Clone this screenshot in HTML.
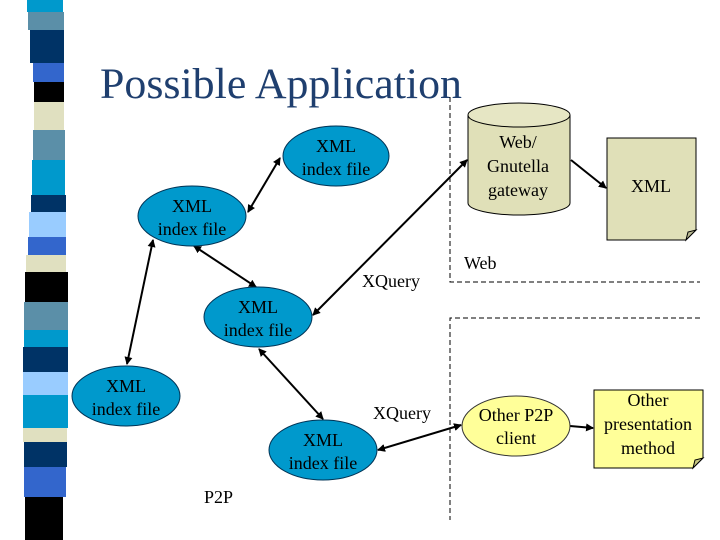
<!DOCTYPE html>
<html><head><meta charset="utf-8"><style>
html,body{margin:0;padding:0;background:#fff;}
svg{display:block;}
text{font-family:"Liberation Serif",serif;}
</style></head><body>
<svg width="720" height="540" viewBox="0 0 720 540" xmlns="http://www.w3.org/2000/svg">
<defs>
<marker id="a" markerWidth="8" markerHeight="8" refX="7" refY="4" orient="auto-start-reverse" markerUnits="userSpaceOnUse"><path d="M0,0 L8,4 L0,8 z" fill="#000"/></marker>
</defs>
<g>
<rect x="27" y="0" width="36" height="12" fill="#0099CC"/>
<rect x="28" y="12" width="36" height="18" fill="#5B8FA8"/>
<rect x="30" y="30" width="34" height="33" fill="#003366"/>
<rect x="33" y="63" width="31" height="19" fill="#3366CC"/>
<rect x="34" y="82" width="30" height="20" fill="#000"/>
<rect x="34" y="102" width="30" height="28" fill="#E0E0C0"/>
<rect x="33" y="130" width="32" height="30" fill="#5B8FA8"/>
<rect x="32" y="160" width="33" height="35" fill="#0099CC"/>
<rect x="31" y="195" width="35" height="17" fill="#003366"/>
<rect x="29" y="212" width="37" height="25" fill="#99CCFF"/>
<rect x="28" y="237" width="38" height="18" fill="#3366CC"/>
<rect x="26" y="255" width="40" height="17" fill="#E0E0C0"/>
<rect x="25" y="272" width="43" height="30" fill="#000"/>
<rect x="24" y="302" width="44" height="28" fill="#5B8FA8"/>
<rect x="24" y="330" width="44" height="17" fill="#0099CC"/>
<rect x="23" y="347" width="45" height="25" fill="#003366"/>
<rect x="23" y="372" width="45" height="23" fill="#99CCFF"/>
<rect x="23" y="395" width="45" height="33" fill="#0099CC"/>
<rect x="23" y="428" width="44" height="14" fill="#E0E0C0"/>
<rect x="24" y="442" width="43" height="25" fill="#003366"/>
<rect x="24" y="467" width="42" height="30" fill="#3366CC"/>
<rect x="25" y="497" width="38" height="43" fill="#000"/>
</g>
<text x="100" y="98" font-size="43" fill="#1F3F6F" textLength="362" lengthAdjust="spacingAndGlyphs">Possible Application</text>
<g fill="none" stroke="#000" stroke-width="1" stroke-dasharray="5,3">
<path d="M450,97 V282 H700"/>
<path d="M700,318 H450 V520"/>
</g>
<g stroke="#000" stroke-width="2" fill="none">
<line x1="280" y1="158" x2="248" y2="212" marker-start="url(#a)" marker-end="url(#a)"/>
<line x1="153" y1="240" x2="127" y2="364" marker-start="url(#a)" marker-end="url(#a)"/>
<line x1="194" y1="246" x2="256" y2="287" marker-start="url(#a)" marker-end="url(#a)"/>
<line x1="259" y1="349" x2="323" y2="419" marker-start="url(#a)" marker-end="url(#a)"/>
<line x1="313" y1="315" x2="467" y2="160" marker-start="url(#a)" marker-end="url(#a)"/>
<line x1="571" y1="160" x2="606" y2="188" marker-end="url(#a)"/>
<line x1="378" y1="450" x2="461" y2="425" marker-start="url(#a)" marker-end="url(#a)"/>
<line x1="570" y1="426" x2="593" y2="428" marker-end="url(#a)"/>
</g>
<g fill="#0099CC" stroke="#003355" stroke-width="1">
<ellipse cx="336" cy="156" rx="53" ry="30"/>
<ellipse cx="192" cy="216" rx="54" ry="30"/>
<ellipse cx="258" cy="317" rx="54" ry="30"/>
<ellipse cx="126" cy="396" rx="54" ry="30"/>
<ellipse cx="323" cy="450" rx="54" ry="30"/>
</g>
<ellipse cx="516" cy="426" rx="54" ry="30" fill="#FFFF99" stroke="#333" stroke-width="1"/>
<path d="M594,390 H703 V458 L693,468 H594 Z" fill="#FFFF99" stroke="#000" stroke-width="1"/>
<path d="M693,468 L695,460 L703,458 Z" fill="#C8C880" stroke="#000" stroke-width="1"/>
<path d="M468,115 V203 A51,12 0 0 0 570,203 V115" fill="#E0E0B8" stroke="#000" stroke-width="1"/>
<ellipse cx="519" cy="115" rx="51" ry="12" fill="#E6E6C4" stroke="#000" stroke-width="1"/>
<path d="M607,138 H696 V230 L686,240 H607 Z" fill="#E0E0B8" stroke="#000" stroke-width="1"/>
<path d="M686,240 L688,232 L696,230 Z" fill="#B8B890" stroke="#000" stroke-width="1"/>
<g font-size="18" text-anchor="middle" fill="#000">
<text x="336" y="152">XML</text><text x="336" y="175">index file</text>
<text x="192" y="212">XML</text><text x="192" y="235">index file</text>
<text x="258" y="313">XML</text><text x="258" y="336">index file</text>
<text x="126" y="392">XML</text><text x="126" y="415">index file</text>
<text x="323" y="446">XML</text><text x="323" y="469">index file</text>
<text x="518" y="148">Web/</text><text x="518" y="172">Gnutella</text><text x="518" y="196">gateway</text>
<text x="651" y="192">XML</text>
<text x="516" y="421">Other P2P</text><text x="516" y="444">client</text>
<text x="648" y="406">Other</text><text x="648" y="430">presentation</text><text x="648" y="454">method</text>
</g>
<g font-size="18" fill="#000">
<text x="362" y="287">XQuery</text>
<text x="373" y="419">XQuery</text>
<text x="464" y="269">Web</text>
<text x="204" y="503">P2P</text>
</g>
</svg>
</body></html>
